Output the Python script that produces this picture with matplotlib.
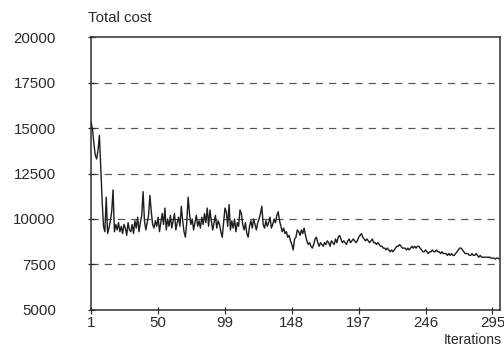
import matplotlib
matplotlib.use("Agg")
import matplotlib.pyplot as plt
from matplotlib.ticker import FixedLocator

plt.rcParams['font.family'] = ['Liberation Sans', 'DejaVu Sans']

# total cost per iteration
cost = [
    15300, 14900, 14100, 13500, 13300, 13800, 14600, 12800, 11000, 9600,
    9300, 11200, 9200, 9500, 9900, 10400, 11600, 9300, 9700, 9400,
    9800, 9300, 9600, 9200, 9700, 9500, 9100, 9800, 9400, 9300,
    9700, 9200, 9900, 9500, 10100, 9300, 9800, 10200, 11500, 9900,
    9400, 9800, 10200, 11300, 10400, 9700, 9500, 9900, 9600, 10100,
    9300, 9800, 10300, 9700, 10600, 9400, 10000, 9600, 10200, 9500,
    9900, 10300, 9400, 9800, 10100, 9600, 10700, 9900, 9300, 9000,
    9800, 11200, 10300, 9700, 10000, 9400, 9800, 10200, 9600, 9900,
    9500, 10100, 9700, 10300, 9800, 10600, 9600, 10500, 9900, 9400,
    9800, 10200, 9500, 9900, 9700, 9300, 9000, 9800, 10600, 10400,
    9600, 10800, 9400, 9900, 9500, 10000, 9300, 9800, 9600, 10500,
    10300, 9700, 9400, 9800, 9200, 9000, 9600, 9900, 9500, 10000,
    9700, 9400, 9800, 10000, 10300, 10700, 9700, 9500, 9900, 9600,
    9800, 10100, 9500, 9700, 10000, 9800, 10200, 10400, 9900, 9600,
    9300, 9500, 9200, 9300, 9000, 9100, 8800, 8600, 8300, 8900,
    9000, 9400, 9300, 9100, 9400, 9200, 9500, 9100, 8800, 8600,
    8700, 8500, 8400, 8600, 8900, 9000, 8700, 8500, 8700, 8600,
    8500, 8700, 8600, 8800, 8700, 8500, 8800, 8700, 8600, 8900,
    8700, 9000, 9100, 8900, 8700, 8800, 8700, 8600, 8800, 8900,
    8700, 8800, 8900, 8800, 8700, 8800, 9000, 9100, 9200, 9000,
    8900, 8800, 8900, 8800, 8700, 8800, 8900, 8700, 8700, 8600,
    8700, 8600, 8500, 8500, 8400, 8400, 8300, 8400, 8300, 8200,
    8300, 8200, 8300, 8400, 8500, 8500, 8600, 8500, 8400, 8400,
    8400, 8300, 8400, 8300, 8400, 8500, 8400, 8500, 8400, 8500,
    8500, 8400, 8300, 8200, 8200, 8300, 8200, 8100, 8200, 8200,
    8300, 8200, 8200, 8300, 8200, 8200, 8100, 8200, 8100, 8100,
    8100, 8000, 8100, 8000, 8100, 8000, 8000, 8100, 8200, 8300,
    8400, 8400, 8300, 8200, 8100, 8100, 8100, 8000, 8000, 8100,
    8000, 8000, 8100, 8000, 7900, 8000, 7900, 7900, 7900, 7900,
    7900, 7900, 7900, 7850, 7850, 7850, 7800, 7850, 7850, 7800,
]
iterations = list(range(1, len(cost) + 1))

x_ticks = [1, 50, 99, 148, 197, 246, 295]
y_ticks = [5000, 7500, 10000, 12500, 15000, 17500, 20000]

ink = '#2a2a2a'

fig = plt.figure(figsize=(7, 5), dpi=72)
ax = fig.add_axes([0.181, 0.139, 0.811, 0.758])

ax.plot(iterations, cost, color='#1e1e1e', linewidth=1.4)

ax.set_xlim(1, 300.5)
ax.set_ylim(5000, 20000)
ax.xaxis.set_major_locator(FixedLocator(x_ticks))
ax.yaxis.set_major_locator(FixedLocator(y_ticks))

# dashed reference lines on the inner ticks
for y in y_ticks[1:-1]:
    ax.axhline(y, color='#555555', linewidth=1.2, linestyle=(0, (6, 5)), zorder=0)

for sp in ax.spines.values():
    sp.set_color(ink)
    sp.set_linewidth(1.5)

ax.tick_params(axis='both', direction='inout', length=7, width=1.2,
               color=ink, labelcolor=ink, labelsize=15)
ax.tick_params(axis='y', pad=32)
ax.tick_params(axis='x', pad=3)

fig.text(0.175, 0.95, 'Total cost', fontsize=15, color=ink, ha='left', va='center')
fig.text(0.996, 0.055, 'Iterations', fontsize=14, color=ink, ha='right', va='center')

fig.savefig('out.png', dpi=72, facecolor='white')
